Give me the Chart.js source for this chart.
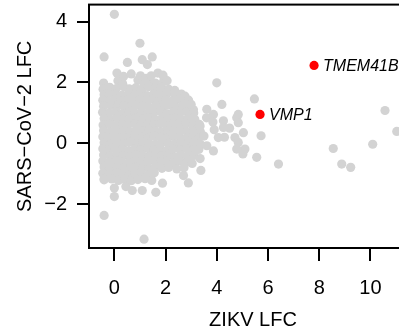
<!DOCTYPE html>
<html>
<head>
<meta charset="utf-8">
<script src="https://cdn.jsdelivr.net/npm/chart.js@4/dist/chart.umd.min.js"></script>
<style>
  html, body { margin: 0; padding: 0; background: #fff; overflow: hidden; }
  canvas { display: block; }
</style>
</head>
<body>
<canvas id="lfcScatter" width="440" height="336"></canvas>
<script>
// ZIKV vs SARS-CoV-2 log fold changes, one point per gene
const xTicks = [0, 2, 4, 6, 8, 10];
const yTicks = [-2, 0, 2, 4];

const hitGenes = ["TMEM41B", "VMP1"];
const hitX = [7.80, 5.69];
const hitY = [2.56, 0.95];

// bulk of the screen
const corePoints = [
  [-0.42, 1.98], [0.14, 2.06], [0.32, 1.97], [0.92, 2.08], [1.14, 2.0], [1.38, 2.04], [1.6, 1.98], [1.92, 2.03],
  [-0.44, 1.78], [-0.18, 1.84], [0.08, 1.8], [0.36, 1.86], [0.58, 1.79], [0.84, 1.83], [1.08, 1.78], [1.33, 1.86], [1.58, 1.8], [1.84, 1.84], [2.12, 1.78],
  [-0.4, 1.6], [-0.18, 1.66], [0.04, 1.62], [0.3, 1.58], [0.56, 1.66], [0.8, 1.6], [1.04, 1.64], [1.28, 1.57], [1.54, 1.63], [1.8, 1.6], [2.06, 1.65], [2.36, 1.58], [2.62, 1.62],
  [-0.45, 1.42], [-0.22, 1.38], [0.02, 1.45], [0.26, 1.4], [0.5, 1.44], [0.74, 1.38], [1.0, 1.43], [1.26, 1.4], [1.5, 1.46], [1.76, 1.39], [2.0, 1.44], [2.26, 1.4], [2.52, 1.45], [2.8, 1.41],
  [-0.42, 1.22], [-0.14, 1.26], [0.1, 1.2], [0.36, 1.24], [0.6, 1.18], [0.86, 1.25], [1.1, 1.21], [1.36, 1.19], [1.62, 1.24], [1.88, 1.2], [2.14, 1.26], [2.4, 1.19], [2.66, 1.24], [2.94, 1.2],
  [-0.46, 1.02], [-0.2, 1.0], [0.06, 1.04], [0.3, 0.98], [0.56, 1.03], [0.8, 0.99], [1.06, 1.04], [1.3, 0.98], [1.56, 1.02], [1.8, 1.05], [2.04, 0.98], [2.3, 1.03], [2.56, 0.99], [2.82, 1.04], [3.1, 1.0],
  [-0.4, 0.82], [-0.16, 0.78], [0.1, 0.84], [0.34, 0.8], [0.6, 0.78], [0.86, 0.83], [1.1, 0.79], [1.36, 0.84], [1.6, 0.78], [1.86, 0.82], [2.1, 0.8], [2.36, 0.84], [2.6, 0.78], [2.88, 0.82], [3.14, 0.79],
  [-0.44, 0.6], [-0.2, 0.64], [0.04, 0.58], [0.3, 0.62], [0.54, 0.6], [0.8, 0.64], [1.04, 0.58], [1.3, 0.62], [1.56, 0.6], [1.8, 0.64], [2.06, 0.58], [2.3, 0.62], [2.56, 0.6], [2.8, 0.64], [3.06, 0.58], [3.32, 0.62],
  [-0.42, 0.42], [-0.16, 0.38], [0.1, 0.44], [0.34, 0.4], [0.6, 0.38], [0.84, 0.43], [1.1, 0.39], [1.34, 0.44], [1.6, 0.4], [1.84, 0.38], [2.1, 0.43], [2.34, 0.4], [2.6, 0.44], [2.84, 0.38], [3.1, 0.42], [3.36, 0.38],
  [-0.45, 0.22], [-0.2, 0.18], [0.06, 0.24], [0.3, 0.2], [0.56, 0.18], [0.8, 0.23], [1.06, 0.2], [1.3, 0.17], [1.56, 0.24], [1.8, 0.2], [2.06, 0.18], [2.3, 0.23], [2.56, 0.2], [2.8, 0.17], [3.06, 0.22], [3.3, 0.18], [3.5, 0.24],
  [-0.4, 0.02], [-0.14, -0.02], [0.1, 0.03], [0.36, -0.01], [0.6, 0.04], [0.86, -0.02], [1.1, 0.02], [1.36, 0.0], [1.6, -0.03], [1.86, 0.03], [2.1, 0.0], [2.36, -0.02], [2.6, 0.03], [2.86, -0.01], [3.1, 0.02], [3.36, -0.03],
  [-0.45, -0.18], [-0.2, -0.22], [0.04, -0.17], [0.3, -0.2], [0.56, -0.24], [0.8, -0.18], [1.04, -0.21], [1.3, -0.17], [1.56, -0.22], [1.8, -0.19], [2.06, -0.23], [2.3, -0.18], [2.56, -0.21], [2.8, -0.17], [3.06, -0.22], [3.3, -0.2],
  [-0.42, -0.38], [-0.16, -0.42], [0.1, -0.37], [0.34, -0.41], [0.6, -0.44], [0.84, -0.38], [1.1, -0.4], [1.36, -0.43], [1.6, -0.37], [1.86, -0.41], [2.1, -0.39], [2.36, -0.44], [2.6, -0.38], [2.86, -0.42], [3.12, -0.4],
  [-0.45, -0.58], [-0.2, -0.62], [0.06, -0.57], [0.3, -0.61], [0.56, -0.64], [0.8, -0.58], [1.06, -0.6], [1.3, -0.63], [1.56, -0.57], [1.8, -0.61], [2.04, -0.59], [2.3, -0.64], [2.56, -0.58], [2.82, -0.62], [3.04, -0.66],
  [-0.4, -0.78], [-0.16, -0.82], [0.1, -0.77], [0.34, -0.81], [0.6, -0.84], [0.86, -0.78], [1.1, -0.8], [1.36, -0.83], [1.6, -0.77], [1.86, -0.82], [2.12, -0.79], [2.44, -0.84], [2.72, -0.8],
  [-0.45, -0.98], [-0.2, -1.02], [0.06, -0.97], [0.3, -1.01], [0.56, -1.04], [0.8, -0.98], [1.06, -1.0], [1.32, -1.03], [1.56, -0.97],
  [-0.4, -1.2], [-0.1, -1.17], [0.16, -1.22], [0.42, -1.18], [0.66, -1.23], [0.92, -1.19], [1.2, -1.16], [1.46, -1.22]
];

const upperFringe = [
  [0.0, 4.24], [1.0, 3.29], [-0.4, 2.84], [0.51, 2.66], [1.09, 2.75], [1.48, 2.84], [1.29, 2.59],
  [0.1, 2.31], [1.7, 2.31], [0.36, 2.2], [1.02, 2.22], [1.24, 2.14], [0.66, 2.28], [1.44, 2.22],
  [1.9, 2.24], [2.06, 2.06], [2.36, 1.74], [2.76, 1.55], [2.9, 1.42], [3.09, 1.1], [3.0, 1.28]
];

const rightFringe = [
  [4.0, 1.99], [4.2, 1.28], [3.61, 1.12], [3.87, 0.95], [4.26, 0.74], [4.78, 0.84], [5.47, 1.46],
  [4.84, 0.95], [4.84, 0.68], [5.04, 0.35], [5.73, 0.25], [4.71, 0.19], [4.84, 0.03], [5.1, -0.19],
  [4.78, -0.19], [5.02, -0.35], [5.56, -0.46], [6.41, -0.68], [8.55, -0.17], [8.88, -0.68],
  [9.23, -0.79], [10.09, -0.03], [10.57, 1.08], [11.03, 0.39], [4.06, 0.19], [3.87, -0.25],
  [3.61, -0.08], [3.35, 0.57], [4.26, 0.52], [3.9, 0.45], [4.5, 0.5], [3.6, 0.84], [3.85, 0.7],
  [4.3, 0.2], [3.35, -0.5]
];

const lowerFringe = [
  [-0.4, -2.37], [1.16, -3.15], [0.0, -1.75], [0.7, -1.55], [1.09, -1.55], [1.62, -1.61],
  [1.88, -1.31], [0.0, -1.47], [0.45, -1.42], [2.7, -1.06], [2.89, -1.3], [3.38, -0.89],
  [-0.4, -1.17]
];

const FONT = "'Liberation Sans', Arial, Helvetica, sans-serif";
const toXY = (p) => ({ x: p[0], y: p[1] });
const minus = (v) => String(v).replace("-", "\u2212");

// R-style box around the plotting region
const boxPlugin = {
  id: "plotBox",
  afterDraw(chart) {
    const { ctx, chartArea: a } = chart;
    ctx.save();
    ctx.strokeStyle = "#000";
    ctx.lineWidth = 2;
    ctx.strokeRect(a.left, a.top, a.right - a.left, a.bottom - a.top);
    ctx.restore();
  }
};

// italic gene names to the right of the highlighted points
const geneLabels = {
  id: "geneLabels",
  afterDatasetsDraw(chart) {
    const meta = chart.getDatasetMeta(0);
    const ctx = chart.ctx;
    ctx.save();
    ctx.font = "italic 16px " + FONT;
    ctx.fillStyle = "#000";
    ctx.textAlign = "left";
    ctx.textBaseline = "middle";
    meta.data.forEach((pt, i) => {
      ctx.fillText(hitGenes[i], pt.x + 9, pt.y + 1);
    });
    ctx.restore();
  }
};

// keep the plot region fixed: no extra room for overhanging tick labels
const fixX = (s) => { s.height = 88; s.paddingLeft = 0; s.paddingRight = 0; };
const fixY = (s) => { s.width = 89; s.paddingTop = 0; s.paddingBottom = 0; };

new Chart(document.getElementById("lfcScatter"), {
  type: "scatter",
  data: {
    datasets: [
      {
        label: "hits",
        data: hitX.map((x, i) => ({ x: x, y: hitY[i] })),
        backgroundColor: "#ff0000",
        borderWidth: 0,
        pointRadius: 4.6,
        order: 0
      },
      {
        label: "screen",
        data: corePoints.concat(upperFringe, rightFringe, lowerFringe).map(toXY),
        backgroundColor: "#d3d3d3",
        borderWidth: 0,
        pointRadius: 4.6,
        order: 1
      }
    ]
  },
  options: {
    responsive: false,
    animation: false,
    events: [],
    layout: { padding: { top: 3, right: 23, left: 0, bottom: 0 } },
    plugins: {
      legend: { display: false },
      tooltip: { enabled: false }
    },
    scales: {
      x: {
        type: "linear",
        min: -0.99,
        max: 11.82,
        afterBuildTicks: (s) => { s.ticks = xTicks.map((v) => ({ value: v })); },
        afterFit: fixX,
        border: { display: false },
        grid: { drawOnChartArea: false, drawTicks: true, tickLength: 13, lineWidth: 2, color: "#000" },
        ticks: { padding: 15, color: "#000", font: { family: FONT, size: 20 }, maxRotation: 0, callback: minus },
        title: { display: true, text: "ZIKV LFC", color: "#000", font: { family: FONT, size: 20 }, padding: { top: 0, bottom: 4 } }
      },
      y: {
        type: "linear",
        min: -3.44,
        max: 4.56,
        afterBuildTicks: (s) => { s.ticks = yTicks.map((v) => ({ value: v })); },
        afterFit: fixY,
        border: { display: false },
        grid: { drawOnChartArea: false, drawTicks: true, tickLength: 12, lineWidth: 2, color: "#000" },
        ticks: { padding: 10, color: "#000", font: { family: FONT, size: 20 }, callback: minus },
        title: { display: true, text: "SARS\u2212CoV\u22122 LFC", color: "#000", font: { family: FONT, size: 20 }, padding: { top: 13, bottom: 0 } }
      }
    }
  },
  plugins: [boxPlugin, geneLabels]
});
</script>
</body>
</html>
